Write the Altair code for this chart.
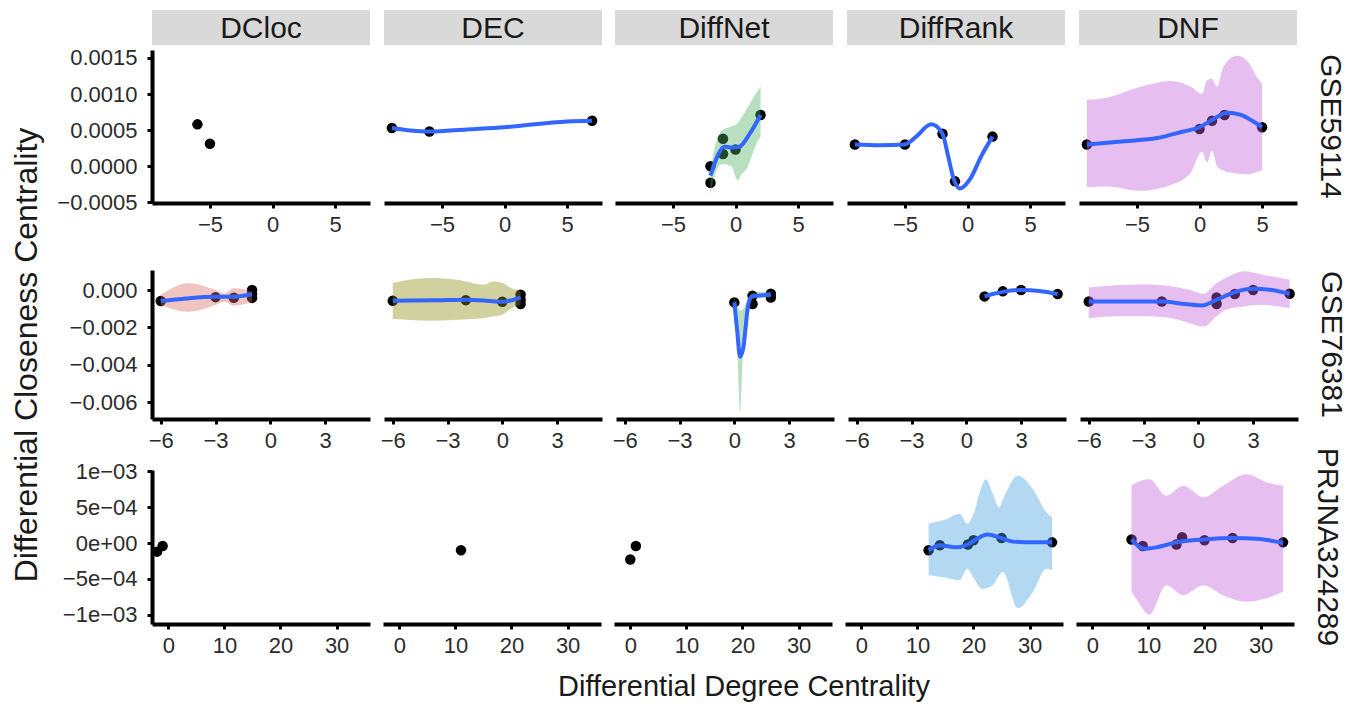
import altair as alt
import pandas as pd

FONT = "Liberation Sans"
METHODS = ["DCloc", "DEC", "DiffNet", "DiffRank", "DNF"]
DATASETS = ["GSE59114", "GSE76381", "PRJNA324289"]
FILLS = ["#DA6B61", "#8C8A10", "#4DB161", "#41A0DE", "#C05CD9"]
LINE_COLOR = "#3366FF"
X_TITLE = "Differential Degree Centrality"
Y_TITLE = "Differential Closeness Centrality"

# ---- axis ticks / domains per dataset row ----
X_TICKS = [[-5, 0, 5], [-6, -3, 0, 3], [0, 10, 20, 30]]
X_DOMS = [[-9.63, 7.79], [-6.48, 5.46], [-2.9, 35.95]]
Y_TICKS = [[-0.0005, 0.0, 0.0005, 0.001, 0.0015],
           [-0.006, -0.004, -0.002, 0.0],
           [-0.001, -0.0005, 0.0, 0.0005, 0.001]]
Y_LABELS = [["\u22120.0005", "0.0000", "0.0005", "0.0010", "0.0015"],
            ["\u22120.006", "\u22120.004", "\u22120.002", "0.000"],
            ["\u22121e\u221203", "\u22125e\u221204", "0e+00", "5e\u221204", "1e\u221203"]]
Y_DOMS = [[-0.00051, 0.00161], [-0.00689, 0.00107], [-0.00113, 0.00102]]

# ---- GSE59114 ----
g1_dcloc_px = [-6, -5]
g1_dcloc_py = [0.00058, 0.00031]

g1_dec_px = [-9, -6, 7]
g1_dec_py = [0.00053, 0.00048, 0.00063]
g1_dec_lx = [-9, -7.5, -6, -3, 0, 5, 7]
g1_dec_ly = [0.00053, 0.000495, 0.00048, 0.00051, 0.00054, 0.00062, 0.00063]

g1_diffnet_px = [-2, -2, -1, -1, 0, 2]
g1_diffnet_py = [0.0, -0.00023, 0.00038, 0.00017, 0.00023, 0.00071]
g1_diffnet_lx = [-2, -1.3, -0.9, -0.35, 0.3, 1.1, 2]
g1_diffnet_ly = [-0.00013, 0.00019, 0.00027, 0.00026, 0.00027, 0.00044, 0.00071]
g1_diffnet_rx = [-2, -1.7, -1.05, -0.35, 0.2, 0.35, 1, 1.6, 2]
g1_diffnet_rhi = [-0.00006, 0.00023, 0.0005, 0.00055, 0.0006, 0.00064, 0.00082, 0.001, 0.0011]
g1_diffnet_rlo = [-0.00041, -0.00015, 0.00003, 0.0, -0.0002, -0.00015, 0.0, 0.00028, 0.00041]

g1_diffrank_px = [-9, -5, -2, -1, 2]
g1_diffrank_py = [0.0003, 0.0003, 0.00045, -0.00021, 0.00041]
g1_diffrank_lx = [-9, -7, -5, -4.1, -2.9, -2, -1.55, -1.1, -0.6, 0.2, 1.1, 2]
g1_diffrank_ly = [0.0003, 0.00029, 0.0003, 0.00041, 0.00058, 0.00045, 0.00014,
                  -0.00018, -0.00031, -0.00018, 0.00014, 0.00041]

g1_dnf_px = [-9, 0, 1, 2, 5]
g1_dnf_py = [0.0003, 0.000515, 0.00063, 0.00071, 0.00054]
g1_dnf_lx = [-9, -6, -3.4, -1.3, 0, 1, 2.2, 3.3, 4.3, 5]
g1_dnf_ly = [0.0003, 0.000346, 0.00039, 0.00048, 0.00054, 0.00064, 0.00074, 0.00071, 0.00062, 0.00054]
g1_dnf_rx = [-9, -7.4, -4.7, -2.3, -0.7, 0.2, 0.6, 1, 1.4, 1.9, 3, 3.8, 4.6, 5]
g1_dnf_rhi = [0.00092, 0.00095, 0.0011, 0.00118, 0.0011, 0.001, 0.00119, 0.00121,
              0.0011, 0.00137, 0.00153, 0.00146, 0.00123, 0.00114]
g1_dnf_rlo = [-0.00029, -0.00028, -0.00034, -0.00026, -0.00009, 0.0002, 0.00005, 0.00022,
              0.0, -0.00006, -0.0001, -0.00011, -0.00008, -0.00006]

# ---- GSE76381 ----
g2_dcloc_px = [-6, -3, -2, -1, -1, -1]
g2_dcloc_py = [-0.00059, -0.00038, -0.00041, 0.0, -0.0002, -0.00042]
g2_dcloc_lx = [-6, -4.6, -3, -2, -1]
g2_dcloc_ly = [-0.00059, -0.00045, -0.00036, -0.00036, -0.00023]
g2_dcloc_rx = [-6, -4.5, -3, -2.5, -2, -1]
g2_dcloc_rhi = [-0.00027, 0.00036, 0.0, -0.00018, 0.00009, -0.00009]
g2_dcloc_rlo = [-0.0008, -0.00116, -0.0008, -0.00063, -0.00084, -0.00063]

g2_dec_px = [-6, -2, 0, 1, 1, 1]
g2_dec_py = [-0.00057, -0.00054, -0.00063, -0.00025, -0.00052, -0.00075]
g2_dec_lx = [-6, -3.6, -2, -0.86, 0, 1]
g2_dec_ly = [-0.00057, -0.00055, -0.00052, -0.00057, -0.00063, -0.00039]
g2_dec_rx = [-6, -4, -2.5, -1, -0.5, 0, 0.5, 1]
g2_dec_rhi = [0.00038, 0.00064, 0.00055, 0.00029, 0.00046, 0.00038, 0.0001, -0.00007]
g2_dec_rlo = [-0.00154, -0.00164, -0.00159, -0.0015, -0.0014, -0.00132, -0.00097, -0.00079]

g2_diffnet_px = [0, 1, 1, 2, 2]
g2_diffnet_py = [-0.00066, -0.0003, -0.00075, -0.0002, -0.0004]
g2_diffnet_lx = [0, 0.16, 0.31, 0.49, 0.76, 0.95, 1.4, 2]
g2_diffnet_ly = [-0.00066, -0.0022, -0.00356, -0.0031, -0.00079, -0.00034, -0.00029, -0.00025]
g2_diffnet_rx = [0, 0.16, 0.31, 0.49, 0.76, 0.95, 1.4, 2]
g2_diffnet_rhi = [-0.0004, -0.0008, -0.0011, -0.001, -0.0005, -0.0002, -0.0001, -0.0001]
g2_diffnet_rlo = [-0.0009, -0.0028, -0.0065, -0.0032, -0.0011, -0.0005, -0.0004, -0.0004]

g2_diffrank_px = [1, 2, 3, 5]
g2_diffrank_py = [-0.00034, -0.00007, 0.0, -0.00021]
g2_diffrank_lx = [1, 1.5, 2, 3, 4, 5]
g2_diffrank_ly = [-0.00034, -0.0002, -0.0001, 0.0, -0.00005, -0.00021]

g2_dnf_px = [-6, -2, 1, 1, 2, 3, 5]
g2_dnf_py = [-0.00061, -0.00061, -0.0004, -0.00075, -0.00021, 0.0, -0.0002]
g2_dnf_lx = [-6, -3.5, -2, -0.7, 0.2, 1, 2, 3, 3.9, 5]
g2_dnf_ly = [-0.00061, -0.00061, -0.00061, -0.00075, -0.00082, -0.00052, -0.00011, 0.00007, 0.00002, -0.0002]
g2_dnf_rx = [-6, -4.5, -3, -1.5, -0.5, 0.3, 1, 1.5, 2.5, 3.5, 5]
g2_dnf_rhi = [0.00014, 0.00025, 0.00029, 0.0002, 0.00002, -0.0002, 0.00038, 0.00064, 0.001, 0.00082, 0.00055]
g2_dnf_rlo = [-0.0015, -0.0014, -0.0014, -0.0015, -0.00177, -0.00195, -0.0014, -0.00105, -0.00088, -0.00079, -0.00097]

# ---- PRJNA324289 ----
g3_dcloc_px = [-2, -1]
g3_dcloc_py = [-0.00012, -0.00004]

g3_dec_px = [11]
g3_dec_py = [-0.0001]

g3_diffnet_px = [0, 1]
g3_diffnet_py = [-0.00023, -0.00004]

g3_diffrank_px = [12, 14, 19, 20, 25, 34]
g3_diffrank_py = [-0.0001, -0.00003, -0.00002, 0.00004, 0.00007, 0.00001]
g3_diffrank_lx = [12, 14, 16.8, 19, 20.4, 22.5, 24.6, 27, 30.6, 34]
g3_diffrank_ly = [-0.0001, -0.00003, -0.00006, -0.00002, 0.00005, 0.00012, 0.00008, 0.00002, 0.00001, 0.00001]
g3_diffrank_rx = [12, 13, 15, 17.5, 18.9, 20.1, 21.5, 22.2, 23.4, 24.6, 25.2, 27.9, 30.6, 33, 34]
g3_diffrank_rhi = [0.00027, 0.00029, 0.00033, 0.00041, 0.00027, 0.00043, 0.0008, 0.00089,
                   0.0007, 0.0005, 0.0006, 0.00094, 0.00075, 0.00043, 0.00036]
g3_diffrank_rlo = [-0.00045, -0.00046, -0.00048, -0.00052, -0.00036, -0.0005, -0.00064, -0.00063,
                   -0.00059, -0.00045, -0.0004, -0.00091, -0.00068, -0.00036, -0.00038]

g3_dnf_px = [7, 9, 15, 16, 20, 25, 34]
g3_dnf_py = [0.00005, -0.00004, -0.00002, 0.00008, 0.00004, 0.00007, 0.00001]
g3_dnf_lx = [7, 9.3, 11.4, 15, 20, 25, 29.3, 34]
g3_dnf_ly = [0.00005, -0.00008, -0.00006, 0.00001, 0.00005, 0.00007, 0.00006, 0.0]
g3_dnf_rx = [7, 8, 10.2, 13.2, 16.2, 19.8, 23.3, 27.5, 31, 34]
g3_dnf_rhi = [0.0008, 0.00085, 0.00089, 0.00066, 0.0008, 0.00064, 0.0008, 0.00096, 0.00085, 0.0008]
g3_dnf_rlo = [-0.00068, -0.0008, -0.001, -0.00059, -0.00073, -0.00059, -0.00073, -0.00082, -0.00077, -0.00068]

# ---- registry built from the named lists ----
G = globals()
PANEL_W = 218
PANEL_H = [153, 149, 154]
Y_EXTENT = 96


def get(prefix, suffix):
    return G.get(prefix + suffix)


def ylabel_expr(ri):
    expr = "''"
    for v, lab in zip(Y_TICKS[ri], Y_LABELS[ri]):
        expr = f"abs(datum.value - ({v})) < 1e-9 ? '{lab}' : ({expr})"
    return expr


def panel(ri, ci):
    prefix = f"g{ri + 1}_{METHODS[ci].lower()}"
    xs = alt.Scale(domain=X_DOMS[ri], nice=False, zero=False)
    ys = alt.Scale(domain=Y_DOMS[ri], nice=False, zero=False)
    xaxis = alt.Axis(values=X_TICKS[ri], title=None, format="d")
    if ci == 0:
        yaxis = alt.Axis(values=Y_TICKS[ri], title=None, labelExpr=ylabel_expr(ri))
    else:
        yaxis = None

    layers = []
    pdf = pd.DataFrame({"x": get(prefix, "_px"), "y": get(prefix, "_py")})
    layers.append(
        alt.Chart(pdf).mark_circle(size=110, color="black", opacity=1).encode(
            x=alt.X("x:Q", scale=xs, axis=xaxis),
            y=alt.Y("y:Q", scale=ys, axis=yaxis),
        )
    )
    rx = get(prefix, "_rx")
    if rx is not None:
        rdf = pd.DataFrame({"x": rx, "lo": get(prefix, "_rlo"), "hi": get(prefix, "_rhi")})
        layers.append(
            alt.Chart(rdf).mark_area(color=FILLS[ci], opacity=0.4, interpolate="monotone").encode(
                x=alt.X("x:Q", scale=xs, axis=xaxis),
                y=alt.Y("lo:Q", scale=ys, axis=yaxis),
                y2="hi:Q",
            )
        )
    lx = get(prefix, "_lx")
    if lx is not None:
        ldf = pd.DataFrame({"x": lx, "y": get(prefix, "_ly")})
        layers.append(
            alt.Chart(ldf).mark_line(color=LINE_COLOR, strokeWidth=4, interpolate="monotone").encode(
                x=alt.X("x:Q", scale=xs, axis=xaxis),
                y=alt.Y("y:Q", scale=ys, axis=yaxis),
            )
        )
    if ri == 0:
        sdf = pd.DataFrame({"label": [METHODS[ci]]})
        layers.append(
            alt.Chart(sdf).mark_rect(color="#D9D9D9").encode(
                x=alt.value(0), x2=alt.value(PANEL_W), y=alt.value(-40), y2=alt.value(-5)
            )
        )
        layers.append(
            alt.Chart(sdf).mark_text(font=FONT, fontSize=30, color="#1a1a1a", baseline="middle").encode(
                x=alt.value(PANEL_W / 2), y=alt.value(-21), text="label:N"
            )
        )
    if ci == 4:
        rdf2 = pd.DataFrame({"label": [DATASETS[ri]]})
        layers.append(
            alt.Chart(rdf2).mark_text(font=FONT, fontSize=30, color="#1a1a1a", angle=90,
                                      baseline="middle").encode(
                x=alt.value(PANEL_W + 33), y=alt.value(PANEL_H[ri] / 2), text="label:N"
            )
        )
    return alt.layer(*layers).properties(width=PANEL_W, height=PANEL_H[ri])


rows = [alt.hconcat(*[panel(ri, ci) for ci in range(5)], spacing=13 if ri != 1 else 10)
        for ri in range(3)]

xtitle = alt.Chart(pd.DataFrame({"t": [X_TITLE]})).mark_text(
    font=FONT, fontSize=29, color="#1a1a1a", baseline="middle"
).encode(x=alt.value(592), y=alt.value(31), text="t:N").properties(width=1150, height=46)

ytitle = alt.Chart(pd.DataFrame({"t": [Y_TITLE]})).mark_text(
    font=FONT, fontSize=32, color="#1a1a1a", angle=270, baseline="middle"
).encode(x=alt.value(19), y=alt.value(305), text="t:N").properties(width=36, height=630)

lower = alt.vconcat(alt.vconcat(rows[1], rows[2], spacing=-4), xtitle, spacing=0)
grid = alt.vconcat(rows[0], lower, spacing=35)

chart = alt.hconcat(ytitle, grid, spacing=12).properties(
    padding={"left": 0, "top": 2, "right": 5, "bottom": 0}
).configure_view(stroke=None).configure_axis(
    grid=False,
    domainColor="black",
    domainWidth=4,
    tickColor="black",
    tickWidth=3,
    tickSize=5,
    labelFont=FONT,
    labelFontSize=22,
    labelColor="#2b2b2b",
).configure_axisX(labelPadding=6).configure_axisY(
    minExtent=Y_EXTENT, maxExtent=Y_EXTENT, labelPadding=10
).configure_concat(spacing=13)

chart.save("out.html", embed_options={"renderer": "svg", "actions": False})
